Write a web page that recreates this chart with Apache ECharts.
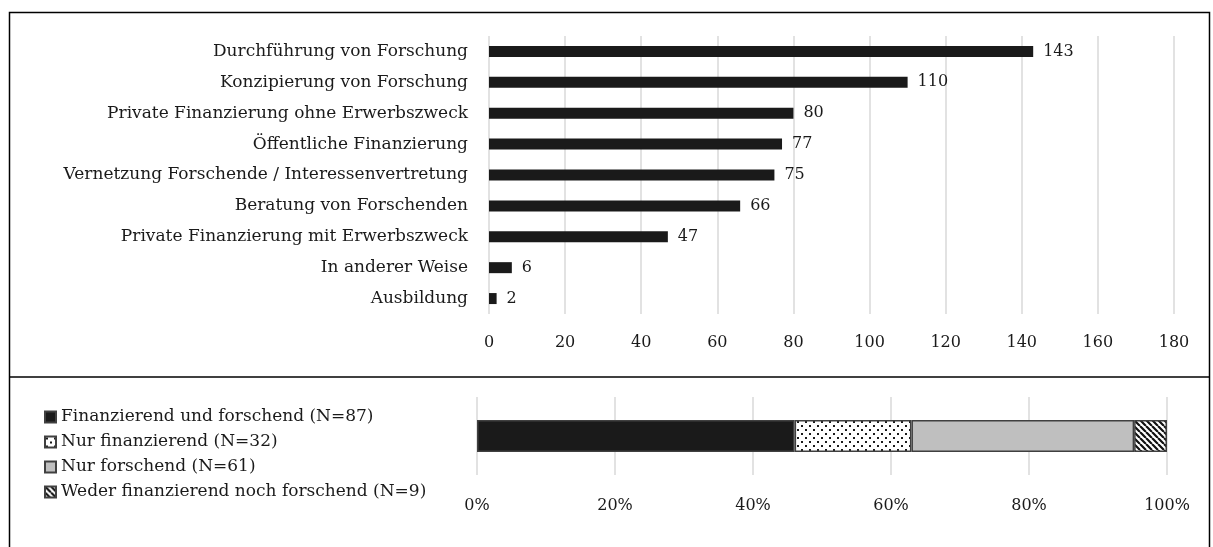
<!DOCTYPE html>
<html>
<head>
<meta charset="utf-8">
<script src="https://cdn.jsdelivr.net/npm/echarts@6/dist/echarts.min.js"></script>
<style>
html,body{margin:0;padding:0;background:#fff;}
#c{width:1213px;height:547px;}
</style>
</head>
<body>
<div id="c"></div>
<script>
const categories = [
  'Durchführung von Forschung',
  'Konzipierung von Forschung',
  'Private Finanzierung ohne Erwerbszweck',
  'Öffentliche Finanzierung',
  'Vernetzung Forschende / Interessenvertretung',
  'Beratung von Forschenden',
  'Private Finanzierung mit Erwerbszweck',
  'In anderer Weise',
  'Ausbildung'
];
const values = [143, 110, 80, 77, 75, 66, 47, 6, 2];
const xTicks = {min: 0, max: 180, interval: 20};

const groupNames = [
  'Finanzierend und forschend (N=87)',
  'Nur finanzierend (N=32)',
  'Nur forschend (N=61)',
  'Weder finanzierend noch forschend (N=9)'
];
const groupCounts = [87, 32, 61, 9];

const FONT = 'DejaVu Serif';
const FS = 17;
const FSN = 16;

function dotPattern(){
  const c = document.createElement('canvas');
  c.width = 8; c.height = 8;
  const g = c.getContext('2d');
  g.fillStyle = '#fff'; g.fillRect(0,0,8,8);
  g.fillStyle = '#1a1a1a';
  g.fillRect(1,1,2,2);
  g.fillRect(5,5,2,2);
  return {image: c, repeat: 'repeat'};
}
function stripePattern(){
  const s = 6;
  const c = document.createElement('canvas');
  c.width = s; c.height = s;
  const g = c.getContext('2d');
  g.fillStyle = '#fff'; g.fillRect(0,0,s,s);
  g.strokeStyle = '#111'; g.lineWidth = 2.2;
  g.beginPath();
  for (let k = -s; k <= 2*s; k += s){
    g.moveTo(k, 0); g.lineTo(k + s, s);
  }
  g.stroke();
  return {image: c, repeat: 'repeat'};
}

const groupFills = ['#1a1a1a', dotPattern(), '#bfbfbf', stripePattern()];
const total = groupCounts.reduce((a,b)=>a+b,0);

const chart = echarts.init(document.getElementById('c'), null, {renderer:'canvas'});

const stackSeries = groupNames.map((n,i)=>({
  name: n,
  type: 'bar',
  xAxisIndex: 1, yAxisIndex: 1,
  stack: 'g',
  barWidth: 32,
  data: [groupCounts[i] / total * 100],
  itemStyle: {color: groupFills[i], borderColor: '#404040', borderWidth: 1.5},
  emphasis: {disabled: true}
}));

chart.setOption({
  animation: false,
  textStyle: {fontFamily: FONT},
  grid: [
    {left: 489, right: 39, top: 36, height: 278, containLabel: false},
    {left: 477, right: 46, top: 397, height: 78, containLabel: false}
  ],
  xAxis: [
    {gridIndex: 0, type: 'value', min: xTicks.min, max: xTicks.max, interval: xTicks.interval,
     axisLine: {show: false}, axisTick: {show: false},
     axisLabel: {color: '#1a1a1a', fontSize: FSN, fontFamily: FONT, margin: 21},
     splitLine: {lineStyle: {color: '#d9d9d9', width: 1.5}}},
    {gridIndex: 1, type: 'value', min: 0, max: 100, interval: 20,
     axisLine: {show: false}, axisTick: {show: false},
     axisLabel: {color: '#1a1a1a', fontSize: FSN, fontFamily: FONT, margin: 23, formatter: '{value}%'},
     splitLine: {lineStyle: {color: '#d9d9d9', width: 1.5}}}
  ],
  yAxis: [
    {gridIndex: 0, type: 'category', data: categories, inverse: true,
     axisLine: {show: false}, axisTick: {show: false},
     axisLabel: {color: '#1a1a1a', fontSize: FS, fontFamily: FONT, margin: 21}},
    {gridIndex: 1, type: 'category', data: [''],
     axisLine: {show: false}, axisTick: {show: false}, axisLabel: {show: false}}
  ],
  legend: {
    data: groupNames,
    orient: 'vertical',
    left: 39, top: 402,
    itemWidth: 11, itemHeight: 11, itemGap: 5,
    icon: 'rect',
    selectedMode: false,
    textStyle: {color: '#1a1a1a', fontSize: FS, fontFamily: FONT, lineHeight: 20, padding: [0,0,0,0]}
  },
  series: [
    {type: 'bar', xAxisIndex: 0, yAxisIndex: 0, data: values, barWidth: 11,
     itemStyle: {color: '#1a1a1a'},
     label: {show: true, position: 'right', distance: 10, color: '#1a1a1a', fontSize: FSN, fontFamily: FONT},
     emphasis: {disabled: true}},
    ...stackSeries
  ],
  graphic: [
    {type: 'rect', shape: {x: 9.5, y: 12.5, width: 1200, height: 560}, style: {fill: 'none', stroke: '#000', lineWidth: 1.5}, silent: true},
    {type: 'line', shape: {x1: 9.5, y1: 377, x2: 1209.5, y2: 377}, style: {stroke: '#000', lineWidth: 1.5}, silent: true}
  ]
});
</script>
</body>
</html>
